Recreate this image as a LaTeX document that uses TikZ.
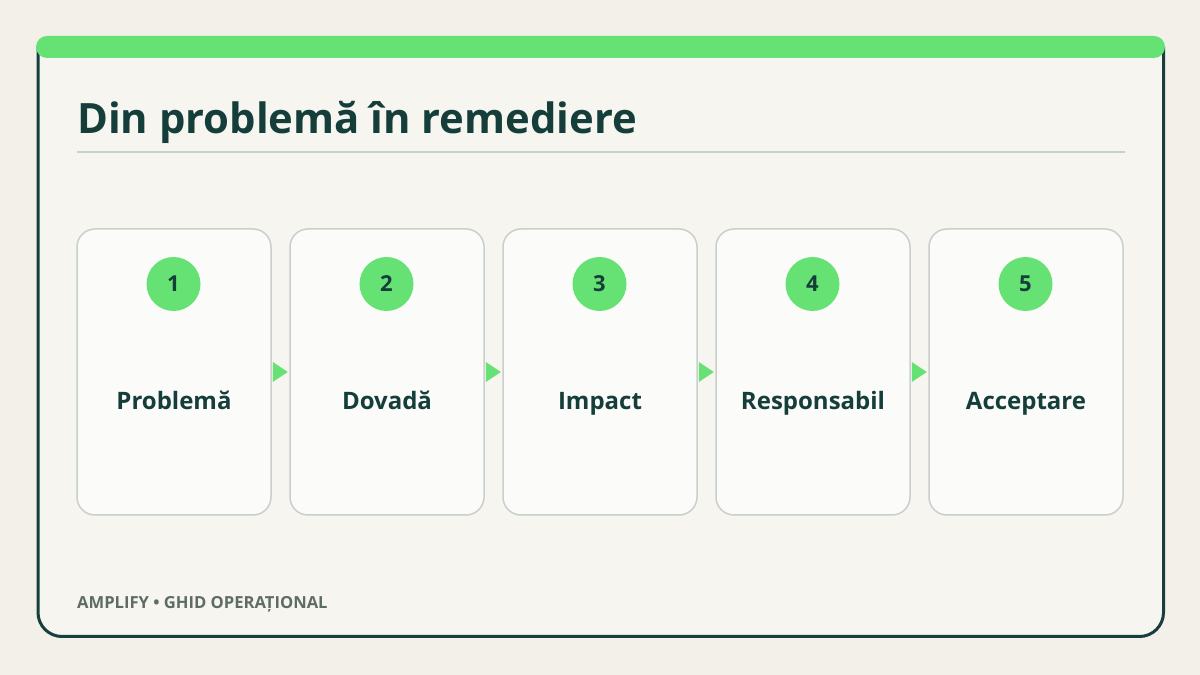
\documentclass[tikz,border=0pt]{standalone}
\usepackage{fontspec}
\setmainfont{Open Sans}
\usetikzlibrary{calc}
\definecolor{bgc}{HTML}{F2F0E9}
\definecolor{cardc}{HTML}{F6F5EF}
\definecolor{borderc}{HTML}{173F3D}
\definecolor{greenc}{HTML}{66E275}
\definecolor{boxc}{HTML}{FBFBFA}
\definecolor{boxline}{HTML}{C9D0CB}
\definecolor{darkc}{HTML}{153E3B}
\definecolor{footc}{HTML}{5F6B66}
\definecolor{sepc}{HTML}{C9D1CB}
\tikzset{
  stepcard/.style={draw=boxline, line width=1.5pt, fill=boxc, rounded corners=18pt,
    minimum width=194pt, minimum height=286pt, inner sep=0pt},
  numdot/.style={circle, fill=greenc, minimum size=54pt, inner sep=0pt,
    font=\fontsize{22}{26}\selectfont\bfseries, text=darkc},
  steplabel/.style={anchor=base, font=\fontsize{24}{28}\selectfont\bfseries, text=darkc, inner sep=0pt},
  arrowtri/.style={fill=greenc},
}
\begin{document}
\begin{tikzpicture}[x=1pt,y=1pt]
\fill[bgc] (0,0) rectangle (1200,675);
\useasboundingbox (0,0) rectangle (1200,675);
% card
\filldraw[fill=cardc, draw=borderc, line width=3pt]
  (38,628) -- (38,62.5) arc[start angle=180,end angle=270,radius=24]
  -- (1139.5,38.5) arc[start angle=270,end angle=360,radius=24]
  -- (1163.5,628);
\fill[greenc, rounded corners=11pt] (36,617) rectangle (1165,639);
% title
\node[anchor=base west, inner sep=0pt, text=darkc, font=\fontsize{41.8}{50}\selectfont\bfseries] (title) at (77,541) {Din problemă în remediere};
\draw[sepc, line width=1.5pt] (77,523) coordinate (sepl) -- (1125,523) coordinate (sepr);
% steps
\foreach \i/\lab [count=\n] in {0/Problemă,1/Dovadă,2/Impact,3/Responsabil,4/Acceptare}{
  \node[stepcard] (b\n) at (174+213*\i,303) {};
  \node[numdot] (c\n) at (173.5+213*\i,391) {\n};
  \node[steplabel] (l\n) at (174+213*\i,265.5) {\lab};
}
\foreach \a/\b in {1/2,2/3,3/4,4/5}{
  \fill[arrowtri] ($(b\a.east)+(1,10)$) -- ($(b\a.east)+(16,0)$) -- ($(b\a.east)+(1,-10)$) -- cycle;
}
% footer
\node[anchor=base west, inner sep=0pt, text=footc, font=\fontsize{16.6}{19}\selectfont\bfseries] (foot) at (77,66) {AMPLIFY • GHID OPERAȚIONAL};
\end{tikzpicture}
\end{document}
